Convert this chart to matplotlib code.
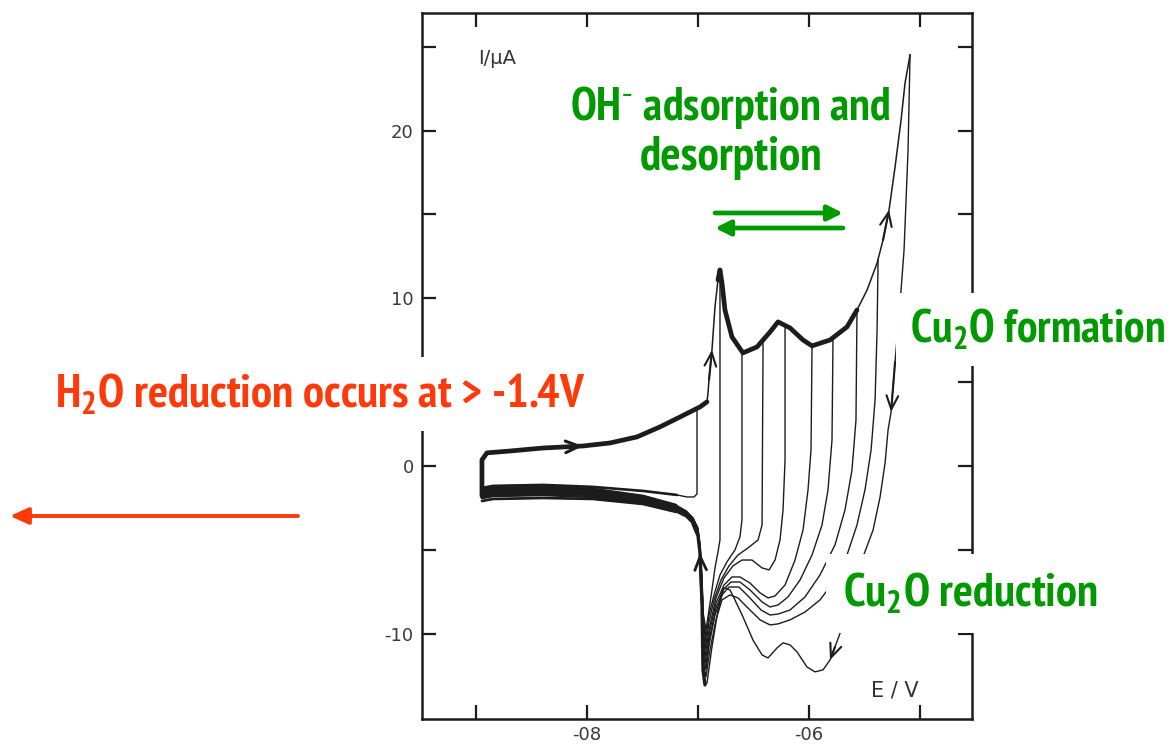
import matplotlib
matplotlib.use("Agg")
import matplotlib.pyplot as plt
from matplotlib import font_manager
from matplotlib.patches import FancyArrowPatch

W, H = 1171, 745

# anodic sweep shared by all cycles (E / V, I / uA)
fwd_E = [-0.8946, -0.8946, -0.8901, -0.8694, -0.8396, -0.8036, -0.7793, -0.7550, -0.7342, -0.7162,
         -0.6982, -0.6919, -0.6910, -0.6901, -0.6874, -0.6847, -0.6820, -0.6802, -0.6784, -0.6757,
         -0.6694, -0.6595, -0.6468, -0.6351, -0.6279, -0.6171, -0.6054, -0.5973, -0.5811, -0.5658,
         -0.5568, -0.5477, -0.5387, -0.5333, -0.5279, -0.5225, -0.5171, -0.5135, -0.5090]
fwd_I = [-1.79, 0.36, 0.78, 0.89, 1.07, 1.19, 1.37, 1.73, 2.33, 2.92,
         3.52, 3.82, 4.35, 5.13, 6.92, 9.48, 11.09, 11.69, 10.91, 9.30,
         7.69, 6.74, 7.10, 7.99, 8.59, 8.23, 7.51, 7.16, 7.51, 8.29,
         9.30, 10.49, 12.10, 13.48, 15.27, 17.83, 20.63, 22.84, 24.51]

# cathodic return sweeps, one per switching potential
scan0_E = [-0.7009, -0.7009, -0.7036, -0.7099, -0.7189, -0.7495, -0.7946, -0.8396, -0.8847, -0.8946]
scan0_I = [3.46, -1.67, -1.85, -1.85, -1.73, -1.49, -1.25, -1.13, -1.19, -1.31]

scan1_E = [-0.6802, -0.6802, -0.6820, -0.6847, -0.6874, -0.6901, -0.6928, -0.6955, -0.6964, -0.6982,
           -0.7000, -0.7045, -0.7108, -0.7198, -0.7495, -0.7946, -0.8396, -0.8847, -0.8946]
scan1_I = [11.57, -4.41, -5.13, -6.08, -7.39, -8.59, -9.78, -8.71, -6.80, -4.71,
           -3.70, -3.10, -2.68, -2.33, -1.79, -1.37, -1.25, -1.31, -1.43]

scan2_E = [-0.6604, -0.6604, -0.6622, -0.6667, -0.6739, -0.6802, -0.6856, -0.6901, -0.6928, -0.6955,
           -0.6964, -0.6982, -0.7000, -0.7045, -0.7108, -0.7198, -0.7495, -0.7946, -0.8396, -0.8847,
           -0.8946]
scan2_I = [6.62, -3.22, -4.23, -5.01, -5.72, -6.50, -7.69, -8.89, -10.20, -8.89,
           -6.92, -4.77, -3.76, -3.10, -2.68, -2.39, -1.85, -1.43, -1.31, -1.37,
           -1.49]

scan3_E = [-0.6414, -0.6423, -0.6459, -0.6550, -0.6640, -0.6721, -0.6793, -0.6856, -0.6901, -0.6928,
           -0.6955, -0.6964, -0.6982, -0.7000, -0.7045, -0.7108, -0.7198, -0.7495, -0.7946, -0.8396,
           -0.8847, -0.8946]
scan3_I = [7.51, -3.52, -4.41, -4.89, -5.31, -5.96, -6.80, -7.99, -9.30, -10.61,
           -9.18, -7.10, -4.83, -3.82, -3.16, -2.74, -2.45, -1.91, -1.49, -1.37,
           -1.43, -1.55]

scan4_E = [-0.6216, -0.6216, -0.6234, -0.6261, -0.6306, -0.6360, -0.6423, -0.6514, -0.6604, -0.6685,
           -0.6766, -0.6838, -0.6892, -0.6928, -0.6955, -0.6964, -0.6982, -0.7000, -0.7045, -0.7108,
           -0.7198, -0.7495, -0.7946, -0.8396, -0.8847, -0.8946]
scan4_I = [8.41, 0.36, -2.62, -4.41, -5.61, -6.20, -6.08, -5.61, -5.61, -5.96,
           -6.68, -7.87, -9.48, -10.97, -9.66, -7.39, -4.89, -3.88, -3.22, -2.80,
           -2.50, -1.97, -1.55, -1.43, -1.49, -1.61]

scan5_E = [-0.5973, -0.5982, -0.6009, -0.6054, -0.6126, -0.6216, -0.6306, -0.6369, -0.6441, -0.6532,
           -0.6622, -0.6694, -0.6766, -0.6838, -0.6892, -0.6928, -0.6955, -0.6964, -0.6982, -0.7000,
           -0.7045, -0.7108, -0.7198, -0.7495, -0.7946, -0.8396, -0.8847, -0.8946]
scan5_I = [7.10, 0.95, -1.43, -3.82, -5.61, -7.10, -7.75, -7.87, -7.57, -6.98,
           -6.62, -6.62, -7.10, -8.17, -9.78, -11.39, -10.08, -7.51, -4.95, -3.94,
           -3.22, -2.80, -2.50, -2.03, -1.61, -1.49, -1.55, -1.67]

scan6_E = [-0.5784, -0.5793, -0.5829, -0.5883, -0.5973, -0.6081, -0.6189, -0.6279, -0.6351, -0.6423,
           -0.6532, -0.6622, -0.6703, -0.6775, -0.6838, -0.6892, -0.6928, -0.6955, -0.6964, -0.6982,
           -0.7000, -0.7045, -0.7108, -0.7198, -0.7495, -0.7946, -0.8396, -0.8847, -0.8946]
scan6_I = [7.51, 1.55, -1.43, -3.52, -5.31, -6.80, -7.81, -8.29, -8.41, -8.11,
           -7.39, -6.92, -6.92, -7.39, -8.47, -10.20, -11.81, -10.49, -7.69, -5.01,
           -4.00, -3.28, -2.86, -2.56, -2.09, -1.67, -1.55, -1.61, -1.73]

scan7_E = [-0.5568, -0.5577, -0.5613, -0.5676, -0.5766, -0.5901, -0.6036, -0.6171, -0.6279, -0.6351,
           -0.6432, -0.6541, -0.6631, -0.6721, -0.6784, -0.6847, -0.6901, -0.6928, -0.6955, -0.6964,
           -0.6982, -0.7000, -0.7045, -0.7108, -0.7198, -0.7495, -0.7946, -0.8396, -0.8847, -0.8946]
scan7_I = [9.24, 2.74, -0.24, -2.62, -4.71, -6.50, -7.81, -8.59, -8.83, -8.89,
           -8.59, -7.81, -7.22, -7.22, -7.69, -8.89, -10.67, -12.16, -10.97, -7.87,
           -5.07, -4.05, -3.34, -2.92, -2.62, -2.15, -1.73, -1.61, -1.67, -1.79]

scan8_E = [-0.5378, -0.5387, -0.5405, -0.5441, -0.5496, -0.5568, -0.5658, -0.5766, -0.5901, -0.6036,
           -0.6171, -0.6279, -0.6351, -0.6441, -0.6550, -0.6640, -0.6712, -0.6784, -0.6838, -0.6892,
           -0.6928, -0.6955, -0.6964, -0.6982, -0.7000, -0.7045, -0.7108, -0.7198, -0.7495, -0.7946,
           -0.8396, -0.8847, -0.8946]
scan8_I = [12.28, 8.11, 3.94, 0.95, -1.43, -3.52, -5.31, -6.80, -7.99, -8.71,
           -9.18, -9.42, -9.48, -9.18, -8.47, -7.87, -7.69, -7.99, -9.18, -10.97,
           -12.58, -11.57, -7.99, -5.13, -4.11, -3.40, -2.98, -2.68, -2.21, -1.85,
           -1.73, -1.79, -1.91]

scan9_E = [-0.5090, -0.5108, -0.5144, -0.5171, -0.5225, -0.5261, -0.5288, -0.5315, -0.5360, -0.5423,
           -0.5514, -0.5613, -0.5703, -0.5766, -0.5811, -0.5874, -0.5946, -0.6018, -0.6108, -0.6171,
           -0.6234, -0.6288, -0.6369, -0.6423, -0.6505, -0.6595, -0.6667, -0.6712, -0.6766, -0.6820,
           -0.6874, -0.6919, -0.6937, -0.6955, -0.6964, -0.6982, -0.7000, -0.7045, -0.7108, -0.7198,
           -0.7495, -0.7946, -0.8396, -0.8847, -0.8946]
scan9_I = [24.51, 18.84, 12.88, 10.49, 6.20, 3.22, 2.15, 0.18, -1.85, -3.82,
           -5.43, -7.51, -9.66, -10.79, -11.57, -12.16, -12.28, -11.99, -11.09, -10.67,
           -10.55, -10.85, -11.45, -11.27, -10.38, -9.00, -7.99, -7.39, -7.27, -8.59,
           -10.79, -12.94, -13.06, -12.16, -8.17, -5.19, -4.17, -3.46, -3.04, -2.74,
           -2.27, -1.97, -1.91, -1.97, -2.09]

returns = [(scan0_E, scan0_I), (scan1_E, scan1_I), (scan2_E, scan2_I), (scan3_E, scan3_I),
           (scan4_E, scan4_I), (scan5_E, scan5_I), (scan6_E, scan6_I), (scan7_E, scan7_I),
           (scan8_E, scan8_I), (scan9_E, scan9_I)]

x_ticks = [-0.9, -0.8, -0.7, -0.6, -0.5]
x_labels = ["", "-08", "", "-06", ""]
y_ticks = [-10, -5, 0, 5, 10, 15, 20, 25]
y_labels = ["-10", "", "0", "", "10", "", "20", ""]

GREEN = "#009a00"
RED = "#ff3a0a"
INK = "#1c1c1c"

# a narrow bold face for the callouts
bold_families = {f.name for f in font_manager.fontManager.ttflist if f.weight in (700, "bold")}
narrow = "Liberation Sans"
for cand in ["Liberation Sans Narrow", "Arial Narrow", "PT Sans Narrow", "Roboto Condensed",
             "Asap Condensed", "Archivo Narrow", "Barlow Semi Condensed"]:
    if cand in bold_families:
        narrow = cand
        break

fig = plt.figure(figsize=(W / 100, H / 100), dpi=100)
ax = fig.add_axes([422 / W, 26 / H, 550 / W, 706 / H])
ax.set_xlim(-0.9486, -0.4532)
ax.set_ylim(-15.09, 27.01)

# cathodic returns first, thin; their common tail back to the start is heavier
for E, I in returns:
    ax.plot(E, I, color=INK, lw=1.0, solid_joinstyle="round")
    ax.plot(E[-6:], I[-6:], color=INK, lw=1.9, solid_joinstyle="round", solid_capstyle="round")
# the sharp re-oxidation edge after the spike is heavy in the trace
ax.plot(scan9_E[32:38], scan9_I[32:38], color=INK, lw=2.4, solid_capstyle="round")

# anodic sweep: heavy where every cycle overlaps
ax.plot(fwd_E[0:12], fwd_I[0:12], color=INK, lw=3.4, solid_capstyle="round", solid_joinstyle="round")
ax.plot(fwd_E[11:17], fwd_I[11:17], color=INK, lw=1.1)
ax.plot(fwd_E[16:31], fwd_I[16:31], color=INK, lw=3.4, solid_capstyle="round", solid_joinstyle="round")
ax.plot(fwd_E[30:], fwd_I[30:], color=INK, lw=1.1)

def sweep_arrow(E, I, i, lw=1.5):
    ax.annotate("", xy=(E[i], I[i]), xytext=(E[i - 1], I[i - 1]),
                arrowprops=dict(arrowstyle="->,head_length=0.7,head_width=0.3", lw=lw,
                                color=INK, shrinkA=0, shrinkB=0, mutation_scale=14))

sweep_arrow(fwd_E, fwd_I, 5, lw=2.2)
sweep_arrow(fwd_E, fwd_I, 14)
sweep_arrow(fwd_E, fwd_I, 34)
sweep_arrow(scan9_E, scan9_I, 5)
sweep_arrow(scan9_E, scan9_I, 14)
sweep_arrow(scan9_E, scan9_I, 35, lw=2.0)

for side in ax.spines.values():
    side.set_linewidth(1.8)
    side.set_color(INK)
ax.set_xticks(x_ticks)
ax.set_xticklabels(x_labels)
ax.set_yticks(y_ticks)
ax.set_yticklabels(y_labels)
ax.tick_params(direction="in", length=10, width=1.6, color=INK, top=True, right=True,
               labelsize=13, labelcolor="#3a3a3a")
ax.tick_params(axis="x", pad=5)
ax.tick_params(axis="y", pad=6)

ax.text(0.137, 0.935, "I/µA", transform=ax.transAxes, fontsize=14,
        color="#333333", ha="center", va="center")
ax.text(0.86, 0.04, "E / V", transform=ax.transAxes, fontsize=15,
        color="#333333", ha="center", va="center")

# callouts: (x centre, baseline y, width in pixels)
callouts = []

def label(x, y, s, color, width, pad=None):
    kw = dict(fontsize=30, fontweight="bold", family=narrow, color=color,
              ha="center", va="baseline")
    if pad is not None:
        kw["bbox"] = dict(boxstyle="square,pad=%.2f" % pad, fc="white", ec="none")
    t = fig.text(x / W, 1 - y / H, s, **kw)
    callouts.append((t, width))

label(730, 120, "OH$^{\\mathregular{\u2010}}$ adsorption and", GREEN, 321)
label(731, 170, "desorption", GREEN, 182)
label(1037, 343, r"Cu$_{\mathregular{2}}$O formation", GREEN, 255, pad=0.30)
label(970, 607, r"Cu$_{\mathregular{2}}$O reduction", GREEN, 255, pad=0.36)
label(320, 407, r"H$_{\mathregular{2}}$O reduction occurs at > -1.4V", RED, 530, pad=0.30)

# size each callout so its width fits the space it sits in
fig.canvas.draw()
renderer = fig.canvas.get_renderer()
for t, width in callouts:
    w = t.get_window_extent(renderer).width
    t.set_fontsize(30 * width / w)

def block_arrow(x0, y0, x1, y1, color, lw, hl, hw):
    fig.add_artist(FancyArrowPatch((x0 / W, 1 - y0 / H), (x1 / W, 1 - y1 / H),
                                   transform=fig.transFigure, color=color, lw=lw,
                                   arrowstyle="-|>,head_length=%.2f,head_width=%.2f" % (hl, hw),
                                   mutation_scale=10, shrinkA=0, shrinkB=0))

block_arrow(715, 213, 843, 213, GREEN, 3.4, 0.9, 0.45)
block_arrow(843, 228, 715, 228, GREEN, 3.4, 0.9, 0.45)
block_arrow(298, 516, 10, 516, RED, 2.8, 1.1, 0.5)

fig.savefig("out.png", dpi=100)
